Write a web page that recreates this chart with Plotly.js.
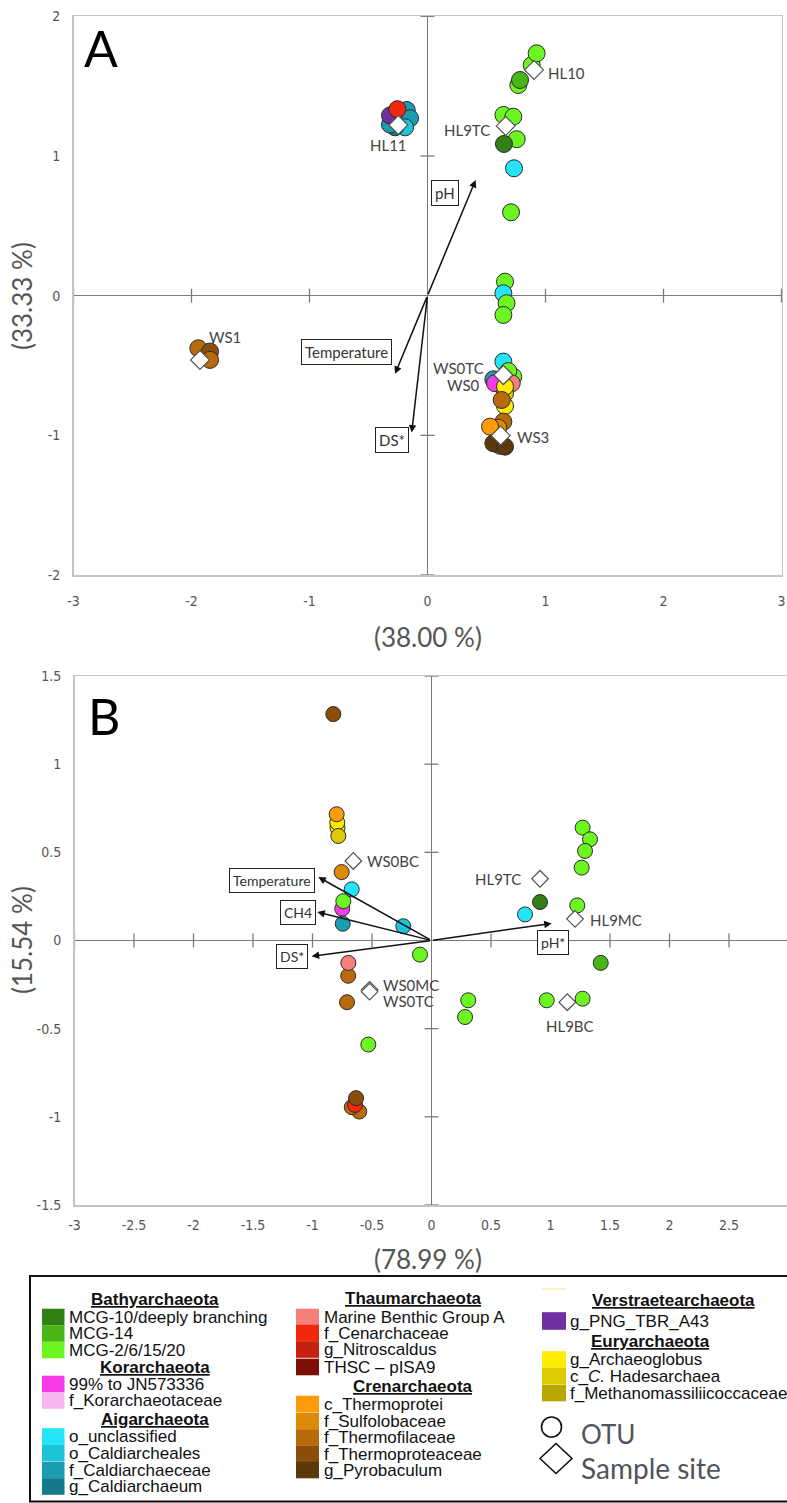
<!DOCTYPE html>
<html><head><meta charset="utf-8">
<script src="https://cdn.plot.ly/plotly-3.0.1.min.js"></script>
<style>html,body{margin:0;padding:0;background:#fff}#chart{width:787px;height:1503px}</style>
</head><body><div id="chart"></div>
<script>
// ---------- taxa (legend categories) ----------
const taxaNames = ["MCG-10/deeply branching","MCG-14","MCG-2/6/15/20","99% to JN573336","f_Korarchaeotaceae",
  "o_unclassified","o_Caldiarcheales","f_Caldiarchaeceae","g_Caldiarchaeum",
  "Marine Benthic Group A","f_Cenarchaceae","g_Nitroscaldus","THSC \u2013 pISA9",
  "c_Thermoprotei","f_Sulfolobaceae","f_Thermofilaceae","f_Thermoproteaceae","g_Pyrobaculum",
  "g_PNG_TBR_A43","g_Archaeoglobus","c_<i>C.</i> Hadesarchaea","f_Methanomassiliicoccaceae"];
const taxaColors = ["#327f16","#49b516","#6cf520","#f43be8","#f8b6ef",
  "#26e4f8","#1cc4da","#1a9db0","#137a89",
  "#f5807a","#f2280e","#c6200e","#7c0d07",
  "#fd9b08","#de8908","#b96b0b","#8b4f0b","#5b390b",
  "#7030a0","#ffec00","#dccb00","#b9a700"];
const phyla = ["Bathyarchaeota","Korarchaeota","Aigarchaeota","Thaumarchaeota","Crenarchaeota","Verstraetearchaeota","Euryarchaeota"];

// ---------- Panel A ----------
const otuA_x = [0.77,0.784,0.883,0.925, -0.176,-0.148,-0.19,-0.275,-0.318,-0.318,-0.255,
  0.643,0.727,0.756,0.648, 0.733,0.708,0.657,0.643,0.67,0.643,
  0.643,0.727,0.685,0.558,0.572,0.714,0.657,0.657,0.657,0.629,
  0.643,0.6,0.53,0.614,0.558,0.657, -1.942,-1.843,-1.843];
const otuA_y = [1.508,1.544,1.651,1.735, 1.329,1.27,1.205,1.205,1.225,1.29,1.335,
  1.294,1.281,1.12,1.086, 0.912,0.597,0.10,0.017,-0.054,-0.138,
  -0.472,-0.58,-0.54,-0.599,-0.627,-0.627,-0.79,-0.699,-0.651,-0.747,
  -0.902,-0.945,-0.938,-1.075,-1.057,-1.081, -0.377,-0.40,-0.46];
const otuA_taxon = [2,1,2,2, 7,7,6,8,7,18,10,
  2,2,2,0, 5,2,2,5,2,2,
  5,2,2,7,3,9,19,20,19,15,
  15,14,13,16,17,17, 15,16,15];
const siteA_name = ["HL10","HL11","HL9TC","WS1","WS0TC","WS0","WS3"];
const siteA_x = [0.903,-0.247,0.663,-1.928,0.643,0.643,0.62];
const siteA_y = [1.616,1.222,1.215,-0.46,-0.568,-0.568,-1.002];
const vecA_name = ["pH","Temperature","DS*"];
const vecA_x = [0.408,-0.275,-0.134];
const vecA_y = [0.828,-0.56,-0.98];
const tickA_x = [-3,-2,-1,0,1,2,3];
const tickA_xlab = ["-3","-2","-1","0","1","2","3"];
const tickA_y = [-2,-1,0,1,2];
const tickA_ylab = ["-2","-1","0","1","2"];

// ---------- Panel B ----------
const otuB_x = [-0.825,-0.79,-0.792,-0.797,-0.783,-0.755,-0.746,-0.75,-0.741,-0.671,-0.237,-0.097,
  -0.70,-0.699,-0.71,-0.531, -0.607,-0.67,-0.643,-0.634,
  1.27,1.332,1.29,1.262,0.912,0.786,1.225,1.422,0.309,0.282,0.968,1.27];
const otuB_y = [1.284,0.64,0.669,0.716,0.593,0.388,0.095,0.18,0.223,0.29,0.081,-0.08,
  -0.2,-0.127,-0.35,-0.59, -0.97,-0.945,-0.932,-0.894,
  0.64,0.574,0.508,0.413,0.218,0.148,0.199,-0.127,-0.339,-0.434,-0.339,-0.33];
const otuB_taxon = [16,19,19,13,20,14,7,3,2,5,6,2,
  15,9,15,2, 15,15,10,16,
  2,2,2,2,0,5,2,1,2,2,2,2];
const siteB_name = ["WS0BC","HL9TC","HL9MC","HL9BC","WS0MC","WS0TC"];
const siteB_x = [-0.657,0.912,1.206,1.141,-0.52,-0.52];
const siteB_y = [0.451,0.35,0.123,-0.35,-0.28,-0.29];
const vecB_name = ["Temperature","CH4","DS*","pH*"];
const vecB_x = [-0.951,-0.96,-1.007,1.01];
const vecB_y = [0.36,0.161,-0.089,0.097];
const tickB_x = [-3,-2.5,-2,-1.5,-1,-0.5,0,0.5,1,1.5,2,2.5];
const tickB_xlab = ["-3","-2.5","-2","-1.5","-1","-0.5","0","0.5","1","1.5","2","2.5"];
const tickB_y = [-1.5,-1,-0.5,0,0.5,1,1.5];
const tickB_ylab = ["-1.5","-1","-0.5","0","0.5","1","1.5"];

// ---------- layout helpers (pixel placement) ----------
const W = 787, H = 1503;
const fx = p => p / W, fy = p => 1 - p / H;
const boxA = {l:73.5, r:781.5, t:16.3, b:575};
const boxB = {l:74.5, t:676, b:1205, unit:119, x0:431.5};
const xRangeB = [-3, (W - boxB.x0) / boxB.unit];

const tickFont = {family:"Liberation Sans Narrow, DejaVu Sans Condensed, sans-serif", size:14, color:"#555"};
const calibri = "Lato, 'Open Sans', sans-serif";
function axis(extra){
  return Object.assign({showgrid:false, zeroline:true, zerolinecolor:"#7a7a7a", zerolinewidth:1.5,
    showline:true, mirror:true, linecolor:"#c4c4c4", linewidth:1.5,
    ticks:"outside", tickcolor:"rgba(0,0,0,0)", tickfont:tickFont, fixedrange:true, automargin:false}, extra);
}

const traces = [];
function zeroTicks(xa, ya, tx, ty){
  const xs = tx.filter(v => v !== 0), ys = ty.filter(v => v !== 0);
  traces.push({type:"scatter", mode:"markers", xaxis:xa, yaxis:ya, x:xs, y:xs.map(()=>0),
    marker:{symbol:"line-ns", size:10, line:{width:1.3, color:"#7a7a7a"}}, cliponaxis:false, hoverinfo:"skip", showlegend:false});
  traces.push({type:"scatter", mode:"markers", xaxis:xa, yaxis:ya, x:ys.map(()=>0), y:ys,
    marker:{symbol:"line-ew", size:10, line:{width:1.3, color:"#7a7a7a"}}, cliponaxis:false, hoverinfo:"skip", showlegend:false});
}
zeroTicks("x","y",tickA_x,tickA_y);
zeroTicks("x2","y2",tickB_x,tickB_y);

traces.push({type:"scatter", mode:"markers", xaxis:"x", yaxis:"y", x:otuA_x, y:otuA_y,
  marker:{size:17, color:otuA_taxon.map(i=>taxaColors[i]), line:{color:"#2a2a2a", width:1}}, hoverinfo:"skip", showlegend:false});
traces.push({type:"scatter", mode:"markers", xaxis:"x", yaxis:"y", x:siteA_x, y:siteA_y,
  marker:{symbol:"diamond", size:14.5, color:"#fff", line:{color:"#555", width:1.2}}, hoverinfo:"skip", showlegend:false});
traces.push({type:"scatter", mode:"markers", xaxis:"x2", yaxis:"y2", x:otuB_x, y:otuB_y,
  marker:{size:15, color:otuB_taxon.map(i=>taxaColors[i]), line:{color:"#2a2a2a", width:1}}, hoverinfo:"skip", showlegend:false});
traces.push({type:"scatter", mode:"markers", xaxis:"x2", yaxis:"y2", x:siteB_x, y:siteB_y,
  marker:{symbol:"diamond", size:12.8, color:"#fff", line:{color:"#555", width:1.2}}, hoverinfo:"skip", showlegend:false});

const ann = [];
const shapes = [];
// vectors
function vectors(xr, yr, names, xs, ys, labelPos, fsize){
  names.forEach((n,i)=>{
    ann.push({xref:xr, yref:yr, axref:xr, ayref:yr, x:xs[i], y:ys[i], ax:0, ay:0, text:"", showarrow:true,
      arrowhead:2, arrowsize:1, arrowwidth:1.5, arrowcolor:"#111"});
    ann.push({xref:xr, yref:yr, x:labelPos[i][0], y:labelPos[i][1], text:n, showarrow:false, xanchor:"center", yanchor:"middle",
      bordercolor:"#222", borderwidth:1, borderpad:3, bgcolor:"#fff", font:{family:calibri, size:fsize, color:"#333"}});
  });
}
vectors("x","y",vecA_name,vecA_x,vecA_y,[[0.148,0.733],[-0.685,-0.40],[-0.303,-1.033]],15);
vectors("x2","y2",vecB_name,vecB_x,vecB_y,[[-1.343,0.343],[-1.119,0.161],[-1.175,-0.089],[1.024,-0.01]],14);

// site labels (pixel offsets from the diamond)
function siteLabels(xr, yr, names, xs, ys, offs){
  names.forEach((n,i)=>{
    ann.push({xref:xr, yref:yr, x:xs[i], y:ys[i], text:n, showarrow:false, xanchor:offs[i][2], yanchor:"middle",
      xshift:offs[i][0], yshift:offs[i][1], font:{family:calibri, size:15, color:"#444"}});
  });
}
siteLabels("x","y",siteA_name,siteA_x,siteA_y,[[12,-3,"left"],[-10,-20,"center"],[-14,-4,"right"],[25,23,"center"],[-17,7,"right"],[-21,-10,"right"],[14,-1,"left"]]);
siteLabels("x2","y2",siteB_name,siteB_x,siteB_y,[[12,0,"left"],[-17,0,"right"],[13,-1,"left"],[3,-24,"center"],[11,5,"left"],[11,-9,"left"]]);

// panel letters & axis titles
const big = {family:calibri, color:"#555", size:26};
function paperText(px, py, text, font, angle){
  ann.push({xref:"paper", yref:"paper", x:fx(px), y:fy(py), text:text, showarrow:false, xanchor:"center", yanchor:"middle",
    textangle:angle||0, font:font});
}
paperText(101, 48, "A", {family:calibri, size:50, color:"#000"});
paperText(104, 716, "B", {family:calibri, size:50, color:"#000"});
paperText(22, 296, "(33.33 %)", big, -90);
paperText(428, 637, "(38.00 %)", big);
paperText(22, 940, "(15.54 %)", big, -90);
paperText(428, 1259, "(78.99 %)", big);

// ---------- legend (drawn) ----------
const legFont = {family:"Liberation Sans, Arial, sans-serif", size:17, color:"#111"};
const legendCols = [
  {sw:[42,64.5], tx:66.5, rows:[["h",0,155,1299],["t",0,1317],["t",1,1333.5],["t",2,1350],["h",1,155,1367],["t",3,1384],["t",4,1400.5],
     ["h",2,155,1419.5],["t",5,1436.5],["t",6,1453],["t",7,1470],["t",8,1486.5]]},
  {sw:[296,319], tx:321.5, rows:[["h",3,413,1298],["t",9,1317],["t",10,1333],["t",11,1349.5],["t",12,1367],["h",4,413,1386],
     ["t",13,1404],["t",14,1421],["t",15,1437.5],["t",16,1454],["t",17,1470]]},
  {sw:[542,566], tx:568, rows:[["h",5,673,1300],["t",18,1321],["h",6,650,1341],["t",19,1359.5],["t",20,1376],["t",21,1393]]}
];
legendCols.forEach(col=>{
  col.rows.forEach(r=>{
    if(r[0]==="h"){
      ann.push({xref:"paper", yref:"paper", x:fx(r[2]), y:fy(r[3]), text:"<b><u>"+phyla[r[1]]+"</u></b>", showarrow:false,
        xanchor:"center", yanchor:"middle", font:legFont});
    } else {
      const half = r[1]===18 ? 8.8 : 8.3;
      shapes.push({type:"rect", xref:"paper", yref:"paper", x0:fx(col.sw[0]), x1:fx(col.sw[1]), y0:fy(r[2]+half), y1:fy(r[2]-half),
        fillcolor:taxaColors[r[1]], line:{width:0}});
      ann.push({xref:"paper", yref:"paper", x:fx(col.tx), y:fy(r[2]), text:taxaNames[r[1]], showarrow:false,
        xanchor:"left", yanchor:"middle", font:legFont});
    }
  });
});
shapes.push({type:"line", xref:"paper", yref:"paper", x0:fx(542), x1:fx(566), y0:fy(1289), y1:fy(1289), line:{color:"#f4f0a8", width:1.5}});
// box
shapes.push({type:"rect", xref:"paper", yref:"paper", x0:fx(30), x1:fx(795), y0:fy(1501.5), y1:fy(1276), line:{color:"#111", width:2}, fillcolor:"rgba(0,0,0,0)"});
// OTU / Sample site symbols
shapes.push({type:"circle", xref:"paper", yref:"paper", x0:fx(541.5), x1:fx(561.5), y0:fy(1437), y1:fy(1417), line:{color:"#111", width:1.6}});
const dcx = 556, dcy = 1458.5, dw = 16, dh = 15;
shapes.push({type:"path", xref:"paper", yref:"paper",
  path:`M ${fx(dcx-dw)} ${fy(dcy)} L ${fx(dcx)} ${fy(dcy-dh)} L ${fx(dcx+dw)} ${fy(dcy)} L ${fx(dcx)} ${fy(dcy+dh)} Z`,
  line:{color:"#111", width:1.6}});
ann.push({xref:"paper", yref:"paper", x:fx(579), y:fy(1434), text:"OTU", showarrow:false, xanchor:"left", yanchor:"middle",
  font:{family:calibri, size:26, color:"#50545c"}});
ann.push({xref:"paper", yref:"paper", x:fx(579), y:fy(1468), text:"Sample site", showarrow:false, xanchor:"left", yanchor:"middle",
  font:{family:calibri, size:28, color:"#50545c"}});

const layout = {
  width:W, height:H, margin:{l:0,r:0,t:0,b:0}, paper_bgcolor:"#fff", plot_bgcolor:"#fff", showlegend:false,
  xaxis: axis({domain:[fx(boxA.l), fx(boxA.r)], range:[-3,3], anchor:"y", tickvals:tickA_x, ticktext:tickA_xlab, ticklen:13}),
  yaxis: axis({domain:[fy(boxA.b), fy(boxA.t)], range:[-2,2], anchor:"x", tickvals:tickA_y, ticktext:tickA_ylab, ticklen:9}),
  xaxis2: axis({domain:[fx(boxB.l), 1], range:xRangeB, anchor:"y2", tickvals:tickB_x, ticktext:tickB_xlab, ticklen:7}),
  yaxis2: axis({domain:[fy(boxB.b), fy(boxB.t)], range:[-1.5,1.5], anchor:"x2", tickvals:tickB_y, ticktext:tickB_ylab, ticklen:9}),
  annotations: ann, shapes: shapes
};
Plotly.newPlot("chart", traces, layout, {staticPlot:true});
</script></body></html>
